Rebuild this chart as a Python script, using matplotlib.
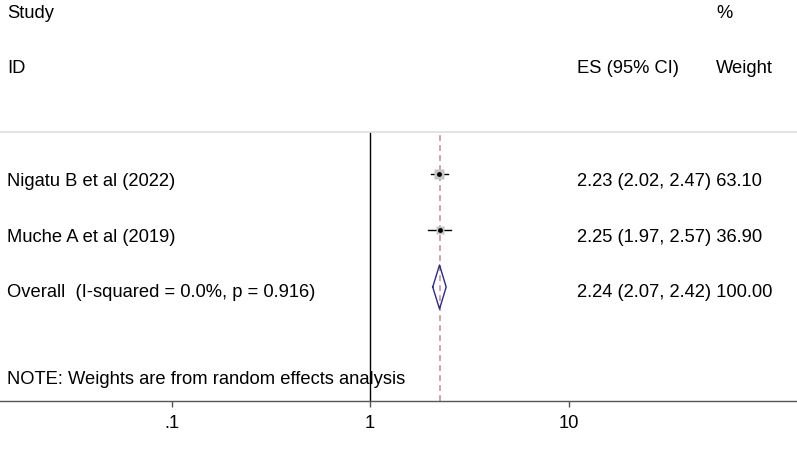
import matplotlib
matplotlib.use('Agg')
import matplotlib.pyplot as plt
import numpy as np

plt.rcParams['font.family'] = ['Liberation Sans', 'DejaVu Sans']

# datos del forest plot
estudios = ['Nigatu B et al (2022)', 'Muche A et al (2019)']
es = [2.23, 2.25]
li = [2.02, 1.97]
ls_ = [2.47, 2.57]
pesos = [63.10, 36.90]
global_es = 2.24
global_li = 2.07
global_ls = 2.42
global_peso = 100.00
global_label = 'Overall  (I-squared = 0.0%, p = 0.916)'
nota = 'NOTE: Weights are from random effects analysis'
ticks = [0.1, 1, 10]
tick_labels = ['.1', '1', '10']

# posiciones (filas en pixeles)
y_est = [174, 230]
y_glob = 287
off_txt = 8
fs = 13.2

fig = plt.figure(figsize=(7.97, 4.54), dpi=100)
ax = fig.add_axes([0, 53 / 454, 1, 269 / 454])
ax.set_xscale('log')
ax.set_xlim(10 ** (-370 / 198.5), 10 ** (427 / 198.5))
ax.set_ylim(401, 132)

ax.spines['left'].set_visible(False)
ax.spines['right'].set_visible(False)
ax.spines['top'].set_color('#e0e0e0')
ax.spines['top'].set_linewidth(1.3)
ax.spines['bottom'].set_color('#555555')
ax.spines['bottom'].set_linewidth(1.0)
ax.set_yticks([])
ax.set_xticks(ticks, tick_labels)
ax.minorticks_off()
ax.tick_params(axis='x', length=4, width=1, color='#555555', pad=6, labelsize=fs)

# lineas de referencia
ax.axvline(1, color='black', lw=1)
ax.axvline(global_es, color='#c8939b', lw=1.2, ls=(0, (3.5, 2.5)))

# estudios
for i in range(len(estudios)):
    y = y_est[i]
    ax.plot([li[i], ls_[i]], [y, y], color='black', lw=1)
    ax.plot(es[i], y, marker='s', ms=0.85 * np.sqrt(pesos[i]), color='#c4c4c4', mec='none')
    ax.plot(es[i], y, marker='o', ms=3.5, color='black', mec='none')

# diamante global
dx = [global_li, global_es, global_ls, global_es, global_li]
dy = [y_glob, y_glob - 22, y_glob, y_glob + 22, y_glob]
ax.plot(dx, dy, color='#2a2a8c', lw=1)

# textos (x en pixeles)
def txt(x, y, s):
    ax.annotate(s, xy=(x / 797, y), xycoords=('axes fraction', 'data'),
                fontsize=fs, va='center', ha='left', annotation_clip=False)

txt(7, 14, 'Study')
txt(7, 69, 'ID')
txt(716, 14, '%')
txt(577, 69, 'ES (95% CI)')
txt(716, 69, 'Weight')
for i in range(len(estudios)):
    txt(7, y_est[i] + off_txt, estudios[i])
    txt(577, y_est[i] + off_txt, '%.2f (%.2f, %.2f) %.2f' % (es[i], li[i], ls_[i], pesos[i]))
txt(7, y_glob + 6, global_label)
txt(577, y_glob + 6, '%.2f (%.2f, %.2f) %.2f' % (global_es, global_li, global_ls, global_peso))
txt(7, 380, nota)

fig.savefig('out.png', dpi=100)
